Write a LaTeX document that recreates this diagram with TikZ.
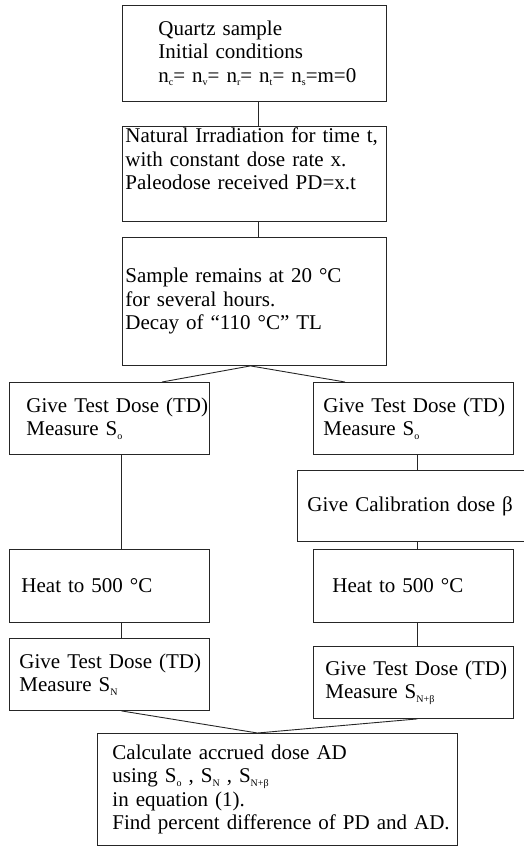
\documentclass[tikz,border=0pt]{standalone}
\usepackage{fontspec}
\setmainfont{Liberation Serif}
\newcommand{\lowidx}[1]{\raisebox{-3.5pt}{\fontsize{10}{10}\selectfont #1}}
\begin{document}
\begin{tikzpicture}[x=1pt,y=-1pt,
    stepbox/.style={draw=black!85, line width=0.9pt, anchor=north west, inner xsep=0pt, inner ysep=0pt, align=left, font=\fontsize{21}{23.5}\selectfont},
    lpad/.style={execute at begin node={\leftskip=#1pt\rightskip=-40pt plus 1fil\relax}},
    link/.style={draw=black!85, line width=0.9pt}]
    \useasboundingbox (0,0) rectangle (524,846);
    \node [stepbox, text width=264pt, minimum height=96pt, lpad=36] (quartz) at (122,5) {Quartz sample\\Initial conditions\\n\lowidx{c}= n\lowidx{v}= n\lowidx{r}= n\lowidx{t}= n\lowidx{s}=m=0};
    \node [stepbox, text width=264pt, minimum height=95pt, lpad=3] (irrad) at (122,126) {Natural Irradiation for time t,\\with constant dose rate x.\\Paleodose received PD=x.t\\\strut};
    \node [stepbox, text width=264pt, minimum height=128pt, lpad=3] (decay) at (122,237) {\strut\\Sample remains at 20 °C\\for several hours.\\Decay of “110 °C” TL\\\strut};
    \node [stepbox, text width=200pt, minimum height=72pt, lpad=17] (tdl) at (9,382) {Give Test Dose (TD)\\Measure S\lowidx{o}};
    \node [stepbox, text width=200pt, minimum height=72pt, lpad=10] (tdr) at (313,382) {Give Test Dose (TD)\\Measure S\lowidx{o}};
    \node [stepbox, text width=240pt, minimum height=71pt, lpad=10] (cal) at (297,470) {Give Calibration dose β};
    \node [stepbox, text width=200pt, minimum height=73pt, lpad=12] (heatl) at (9,549) {Heat to 500 °C};
    \node [stepbox, text width=200pt, minimum height=73pt, lpad=19] (heatr) at (313,549) {Heat to 500 °C};
    \node [stepbox, text width=200pt, minimum height=72pt, lpad=10] (tdnl) at (9,638) {Give Test Dose (TD)\\Measure S\lowidx{N}};
    \node [stepbox, text width=200pt, minimum height=72pt, lpad=12] (tdnr) at (313,646) {Give Test Dose (TD)\\Measure S\lowidx{N+β}};
    \node [stepbox, text width=360pt, minimum height=112pt, lpad=15] (calc) at (97,733) {Calculate accrued dose AD\\using S\lowidx{o} , S\lowidx{N} , S\lowidx{N+β}\\in equation (1).\\Find percent difference of PD and AD.};
    \draw [link] ([xshift=4pt]quartz.south) -- ([xshift=4pt]irrad.north);
    \draw [link] ([xshift=4pt]irrad.south) -- ([xshift=4pt]decay.north);
    \draw [link] ([xshift=153pt]tdl.north west) -- ([xshift=-4pt]decay.south) -- ([xshift=32pt]tdr.north west);
    \draw [link] ([xshift=12pt]tdl.south) -- ([xshift=12pt]heatl.north);
    \draw [link] ([xshift=12pt]heatl.south) -- ([xshift=12pt]tdnl.north);
    \draw [link] ([xshift=4pt]tdr.south) -- (cal.north);
    \draw [link] (cal.south) -- ([xshift=4pt]heatr.north);
    \draw [link] ([xshift=4pt]heatr.south) -- ([xshift=4pt]tdnr.north);
    \draw [link] ([xshift=12pt]tdnl.south) -- ([xshift=-20pt]calc.north) -- ([xshift=4pt]tdnr.south);
\end{tikzpicture}
\end{document}
